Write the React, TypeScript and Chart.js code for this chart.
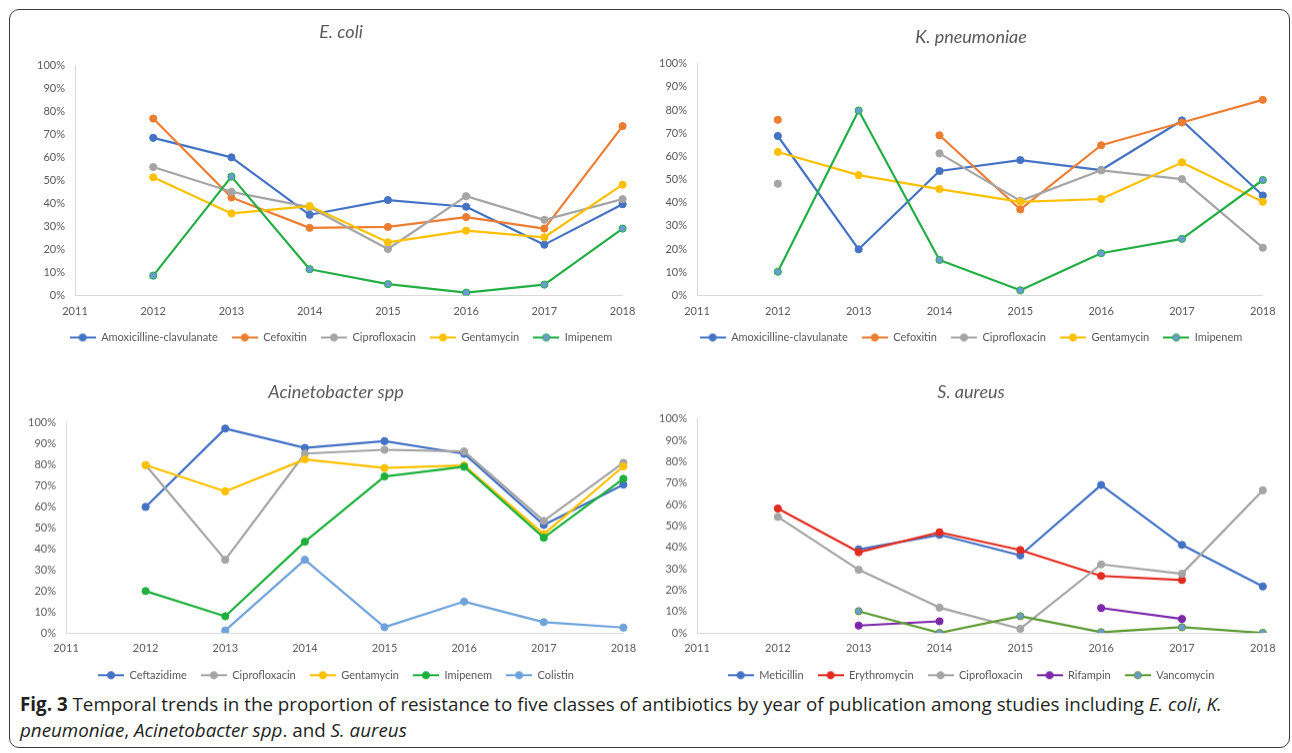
import React, { useEffect, useRef } from 'react';
import { Chart, registerables } from 'chart.js';

Chart.register(...registerables);

// ---------- data ----------
const years = ['2011', '2012', '2013', '2014', '2015', '2016', '2017', '2018'];

// E. coli (% resistant)
const ecoliAmox = [null, 68.6, 60.1, 35.1, 41.5, 38.6, 22.1, 39.7];
const ecoliCefox = [null, 77.0, 42.6, 29.4, 29.8, 34.1, 29.1, 73.7];
const ecoliCipro = [null, 55.9, 45.1, 38.4, 20.2, 43.2, 32.9, 41.9];
const ecoliGenta = [null, 51.4, 35.7, 38.9, 23.1, 28.2, 25.3, 48.2];
const ecoliImip = [null, 8.6, 51.7, 11.4, 4.9, 1.2, 4.7, 29.1];

// K. pneumoniae
const kpnAmox = [null, 68.8, 19.9, 53.7, 58.4, 54.1, 75.5, 43.1];
const kpnCefox = [null, 75.8, null, 69.1, 37.1, 64.8, 74.6, 84.4];
const kpnCipro = [null, 48.2, null, 61.3, 40.8, 54.0, 50.2, 20.6];
const kpnGenta = [null, 61.9, 51.9, 45.9, 40.4, 41.6, 57.4, 40.4];
const kpnImip = [null, 10.2, 79.8, 15.3, 2.2, 18.2, 24.4, 49.8];

// Acinetobacter spp
const acbCeftaz = [null, 60.0, 97.3, 88.1, 91.3, 85.3, 51.4, 70.6];
const acbCipro = [null, 79.9, 34.8, 85.4, 87.2, 86.4, 53.3, 81.0];
const acbGenta = [null, 79.9, 67.4, 82.6, 78.5, 79.7, 47.0, 79.3];
const acbImip = [null, 19.9, 7.9, 43.4, 74.5, 79.1, 45.3, 73.4];
const acbColis = [null, null, 1.1, 34.8, 2.7, 14.9, 5.1, 2.5];

// S. aureus
const saMeti = [null, null, 39.0, 45.8, 36.2, 69.1, 41.1, 21.7];
const saEry = [null, 58.1, 37.7, 47.0, 38.7, 26.6, 24.7, null];
const saCipro = [null, 54.2, 29.5, 11.8, 1.9, 32.0, 27.6, 66.6];
const saRifa = [null, null, 3.4, 5.4, null, 11.6, 6.5, null];
const saVanco = [null, null, 10.1, 0, 7.8, 0.3, 2.6, 0];

// ---------- styling ----------
const BLUE = '#4472C4';
const ORANGE = '#ED7D31';
const GRAY = '#A5A5A5';
const GOLD = '#FFC000';
const GREEN = '#22AE45';
const MARKER_BLUE = '#6C9BD2';
const LIGHT_BLUE = '#6EA3DA';
const RED = '#E32B1F';
const PURPLE = '#7A27A9';
const OLIVE = '#5D9A32';
const TEXT = '#595959';
const AXIS = '#D9D9D9';
const FONT = 'Lato, "Open Sans", sans-serif';

type Series = { label: string; data: (number | null)[]; color: string; fill?: string };
type Panel = {
  title: string;
  series: Series[];
  left: number; top: number; width: number; height: number;
  yW: number; y2W: number; xH: number; titleTop: number; titleBottom: number;
};

const panels: Panel[] = [
  {
    title: 'E. coli',
    series: [
      { label: 'Amoxicilline-clavulanate', data: ecoliAmox, color: BLUE },
      { label: 'Cefoxitin', data: ecoliCefox, color: ORANGE },
      { label: 'Ciprofloxacin', data: ecoliCipro, color: GRAY },
      { label: 'Gentamycin', data: ecoliGenta, color: GOLD },
      { label: 'Imipenem', data: ecoliImip, color: GREEN, fill: MARKER_BLUE },
    ],
    left: 35, top: 15, width: 612, height: 338, yW: 40, y2W: 24.4, xH: 22.6, titleTop: 5.9, titleBottom: 23.2,
  },
  {
    title: 'K. pneumoniae',
    series: [
      { label: 'Amoxicilline-clavulanate', data: kpnAmox, color: BLUE },
      { label: 'Cefoxitin', data: kpnCefox, color: ORANGE },
      { label: 'Ciprofloxacin', data: kpnCipro, color: GRAY },
      { label: 'Gentamycin', data: kpnGenta, color: GOLD },
      { label: 'Imipenem', data: kpnImip, color: GREEN, fill: MARKER_BLUE },
    ],
    left: 657, top: 15, width: 628, height: 338, yW: 40, y2W: 22.2, xH: 22.6, titleTop: 10.9, titleBottom: 16.2,
  },
  {
    title: 'Acinetobacter spp',
    series: [
      { label: 'Ceftazidime', data: acbCeftaz, color: BLUE },
      { label: 'Ciprofloxacin', data: acbCipro, color: GRAY },
      { label: 'Gentamycin', data: acbGenta, color: GOLD },
      { label: 'Imipenem', data: acbImip, color: '#1DB13C' },
      { label: 'Colistin', data: acbColis, color: LIGHT_BLUE },
    ],
    left: 26, top: 370, width: 620, height: 319.7, yW: 40, y2W: 22.6, xH: 22.7, titleTop: 10.9, titleBottom: 20.2,
  },
  {
    title: 'S. aureus',
    series: [
      { label: 'Meticillin', data: saMeti, color: BLUE },
      { label: 'Erythromycin', data: saEry, color: RED },
      { label: 'Ciprofloxacin', data: saCipro, color: GRAY },
      { label: 'Rifampin', data: saRifa, color: PURPLE },
      { label: 'Vancomycin', data: saVanco, color: OLIVE, fill: MARKER_BLUE },
    ],
    left: 657, top: 370, width: 628, height: 319.7, yW: 40, y2W: 22.2, xH: 22.7, titleTop: 10.9, titleBottom: 16.2,
  },
];

function legendSymbol(color: string, fill: string) {
  const c = document.createElement('canvas');
  c.width = 26;
  c.height = 10;
  const ctx = c.getContext('2d')!;
  ctx.strokeStyle = color;
  ctx.lineWidth = 2;
  ctx.beginPath();
  ctx.moveTo(0, 5);
  ctx.lineTo(26, 5);
  ctx.stroke();
  ctx.beginPath();
  ctx.arc(13, 5, 3.6, 0, Math.PI * 2);
  ctx.fillStyle = fill;
  ctx.fill();
  ctx.lineWidth = 1;
  ctx.stroke();
  return c;
}

function PanelChart({ p }: { p: Panel }) {
  const ref = useRef<HTMLCanvasElement>(null);
  useEffect(() => {
    if (!ref.current) return;
    const n = p.series.length;
    const symbols = p.series.map((s) => legendSymbol(s.color, s.fill || s.color));
    const chart = new Chart(ref.current, {
      type: 'line',
      data: {
        labels: years,
        datasets: p.series.map((s, i) => ({
          label: s.label,
          data: s.data,
          yAxisID: 'y',
          borderColor: s.color,
          backgroundColor: s.fill || s.color,
          pointBackgroundColor: s.fill || s.color,
          pointBorderColor: s.color,
          pointBorderWidth: 1,
          pointRadius: 3.6,
          borderWidth: 2.2,
          borderJoinStyle: 'round' as const,
          borderCapStyle: 'round' as const,
          tension: 0,
          spanGaps: false,
          order: n - i,
        })),
      },
      options: {
        animation: false,
        responsive: true,
        maintainAspectRatio: false,
        layout: { padding: 0 },
        plugins: {
          tooltip: { enabled: false },
          title: {
            display: true,
            text: p.title,
            color: TEXT,
            font: { family: FONT, size: 18, style: 'italic', weight: 'normal', lineHeight: 1.2 },
            padding: { top: p.titleTop, bottom: p.titleBottom },
          },
          legend: {
            display: true,
            position: 'bottom',
            labels: {
              usePointStyle: true,
              pointStyleWidth: 26,
              boxHeight: 10,
              padding: 14,
              color: TEXT,
              font: { family: FONT, size: 11 },
              generateLabels: (ch: any) => {
                const items = Chart.defaults.plugins.legend.labels.generateLabels(ch);
                return items
                  .map((it: any) => ({ ...it, pointStyle: symbols[it.datasetIndex] }))
                  .sort((a: any, b: any) => a.datasetIndex - b.datasetIndex);
              },
            },
          },
        },
        scales: {
          x: {
            type: 'category',
            offset: false,
            grid: { display: true, drawOnChartArea: false, drawTicks: false },
            border: { display: true, color: AXIS, width: 1 },
            ticks: { color: TEXT, font: { family: FONT, size: 11 }, padding: 9, maxRotation: 0, autoSkip: false },
            afterFit: (scale: any) => { scale.height = p.xH; },
          },
          y: {
            type: 'linear',
            position: 'left',
            min: 0,
            max: 100,
            grid: { display: true, drawOnChartArea: false, drawTicks: false },
            border: { display: true, color: AXIS, width: 1 },
            ticks: {
              stepSize: 10,
              color: TEXT,
              font: { family: FONT, size: 11 },
              padding: 10,
              callback: (v: any) => `${v}%`,
            },
            afterFit: (scale: any) => { scale.width = p.yW; },
          },
          y2: {
            type: 'linear',
            position: 'right',
            display: true,
            min: 0,
            max: 100,
            grid: { display: false, drawTicks: false },
            border: { display: false },
            ticks: { display: false },
            afterFit: (scale: any) => { scale.width = p.y2W; },
          },
        },
      },
    });
    return () => chart.destroy();
  }, [p]);

  return (
    <div
      style={{
        position: 'absolute',
        left: p.left,
        top: p.top,
        width: p.width,
        height: p.height,
      }}
    >
      <canvas ref={ref} />
    </div>
  );
}

export default function App() {
  return (
    <div
      style={{
        position: 'absolute',
        left: 0,
        top: 0,
        width: 1292,
        height: 753,
        background: '#ffffff',
        overflow: 'hidden',
      }}
    >
      <div
        style={{
          position: 'absolute',
          left: 9,
          top: 9,
          width: 1279,
          height: 737,
          border: '1.5px solid #3a3a3a',
          borderRadius: 10,
        }}
      />
      {panels.map((p) => (
        <PanelChart key={p.title} p={p} />
      ))}
      <div
        style={{
          position: 'absolute',
          left: 20,
          top: 691,
          width: 1260,
          fontFamily: '"Open Sans", sans-serif',
          fontSize: 18.8,
          lineHeight: '26px',
          color: '#231F20',
          whiteSpace: 'nowrap',
        }}
      >
        <b>Fig. 3</b> Temporal trends in the proportion of resistance to five classes of antibiotics by year of publication among studies including <i>E. coli</i>, <i>K.</i>
        <br />
        <i>pneumoniae</i>, <i>Acinetobacter spp</i>. and <i>S. aureus</i>
      </div>
    </div>
  );
}
